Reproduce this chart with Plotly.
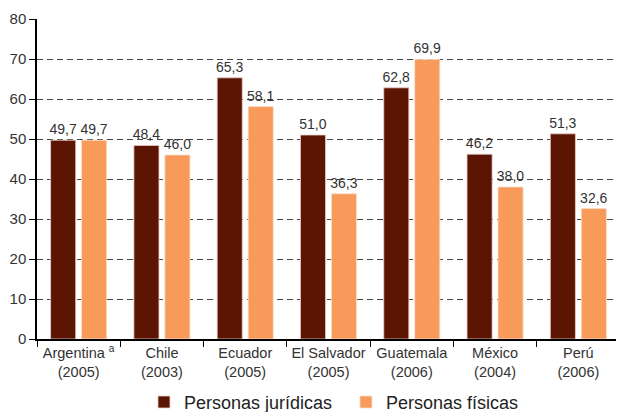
import plotly.graph_objects as go

paises = ["Argentina <sup>a</sup><br>(2005)", "Chile<br>(2003)", "Ecuador<br>(2005)",
          "El Salvador<br>(2005)", "Guatemala<br>(2006)", "México<br>(2004)", "Perú<br>(2006)"]
juridicas = [49.7, 48.4, 65.3, 51.0, 62.8, 46.2, 51.3]
fisicas = [49.7, 46.0, 58.1, 36.3, 69.9, 38.0, 32.6]
yticks = [0, 10, 20, 30, 40, 50, 60, 70, 80]


def fmt(v):
    return f"{v:.1f}".replace(".", ",")


fig = go.Figure()
fig.add_trace(go.Bar(
    x=paises, y=juridicas, name="Personas jurídicas",
    marker=dict(color="#5C1503", line=dict(color="#E8D0C8", width=0.8)),
    text=[fmt(v) for v in juridicas], textposition="outside", constraintext="none",
    textfont=dict(size=14, color="#333333"), cliponaxis=False,
))
fig.add_trace(go.Bar(
    x=paises, y=fisicas, name="Personas físicas",
    marker=dict(color="#F79A5A", line=dict(color="#FBE0CC", width=0.8)),
    text=[fmt(v) for v in fisicas], textposition="outside", constraintext="none",
    textfont=dict(size=14, color="#333333"), cliponaxis=False,
))

# page body has an 8px margin, so margins are shifted to compensate
fig.update_layout(
    width=624, height=412,
    margin=dict(l=29, r=12, t=11, b=81, autoexpand=False),
    plot_bgcolor="white", paper_bgcolor="white",
    font=dict(family="Liberation Sans, Arial", size=14, color="#222222"),
    barmode="group", bargap=0.256, bargroupgap=0.19,
    showlegend=True,
    legend=dict(orientation="h", x=0.53, xanchor="center", y=-0.14, yanchor="top",
                font=dict(size=18, color="#222222"), itemwidth=30, tracegroupgap=0,
                entrywidth=157, entrywidthmode="pixels"),
)
fig.update_xaxes(
    showline=True, linecolor="black", linewidth=1.5, automargin=False,
    ticks="outside", tickson="boundaries", ticklen=6, tickcolor="black",
    tickangle=0, tickfont=dict(size=14.5, color="#333333"),
)
fig.update_yaxes(
    range=[0, 80], tickvals=yticks, showline=True, linecolor="black", linewidth=1.5,
    ticks="outside", ticklen=6, tickcolor="black", automargin=False,
    showgrid=True, gridcolor="#444444", griddash="6px,4px", gridwidth=1,
    tickfont=dict(size=15, color="#333333"), zeroline=False,
)

fig.write_html("out.html")
